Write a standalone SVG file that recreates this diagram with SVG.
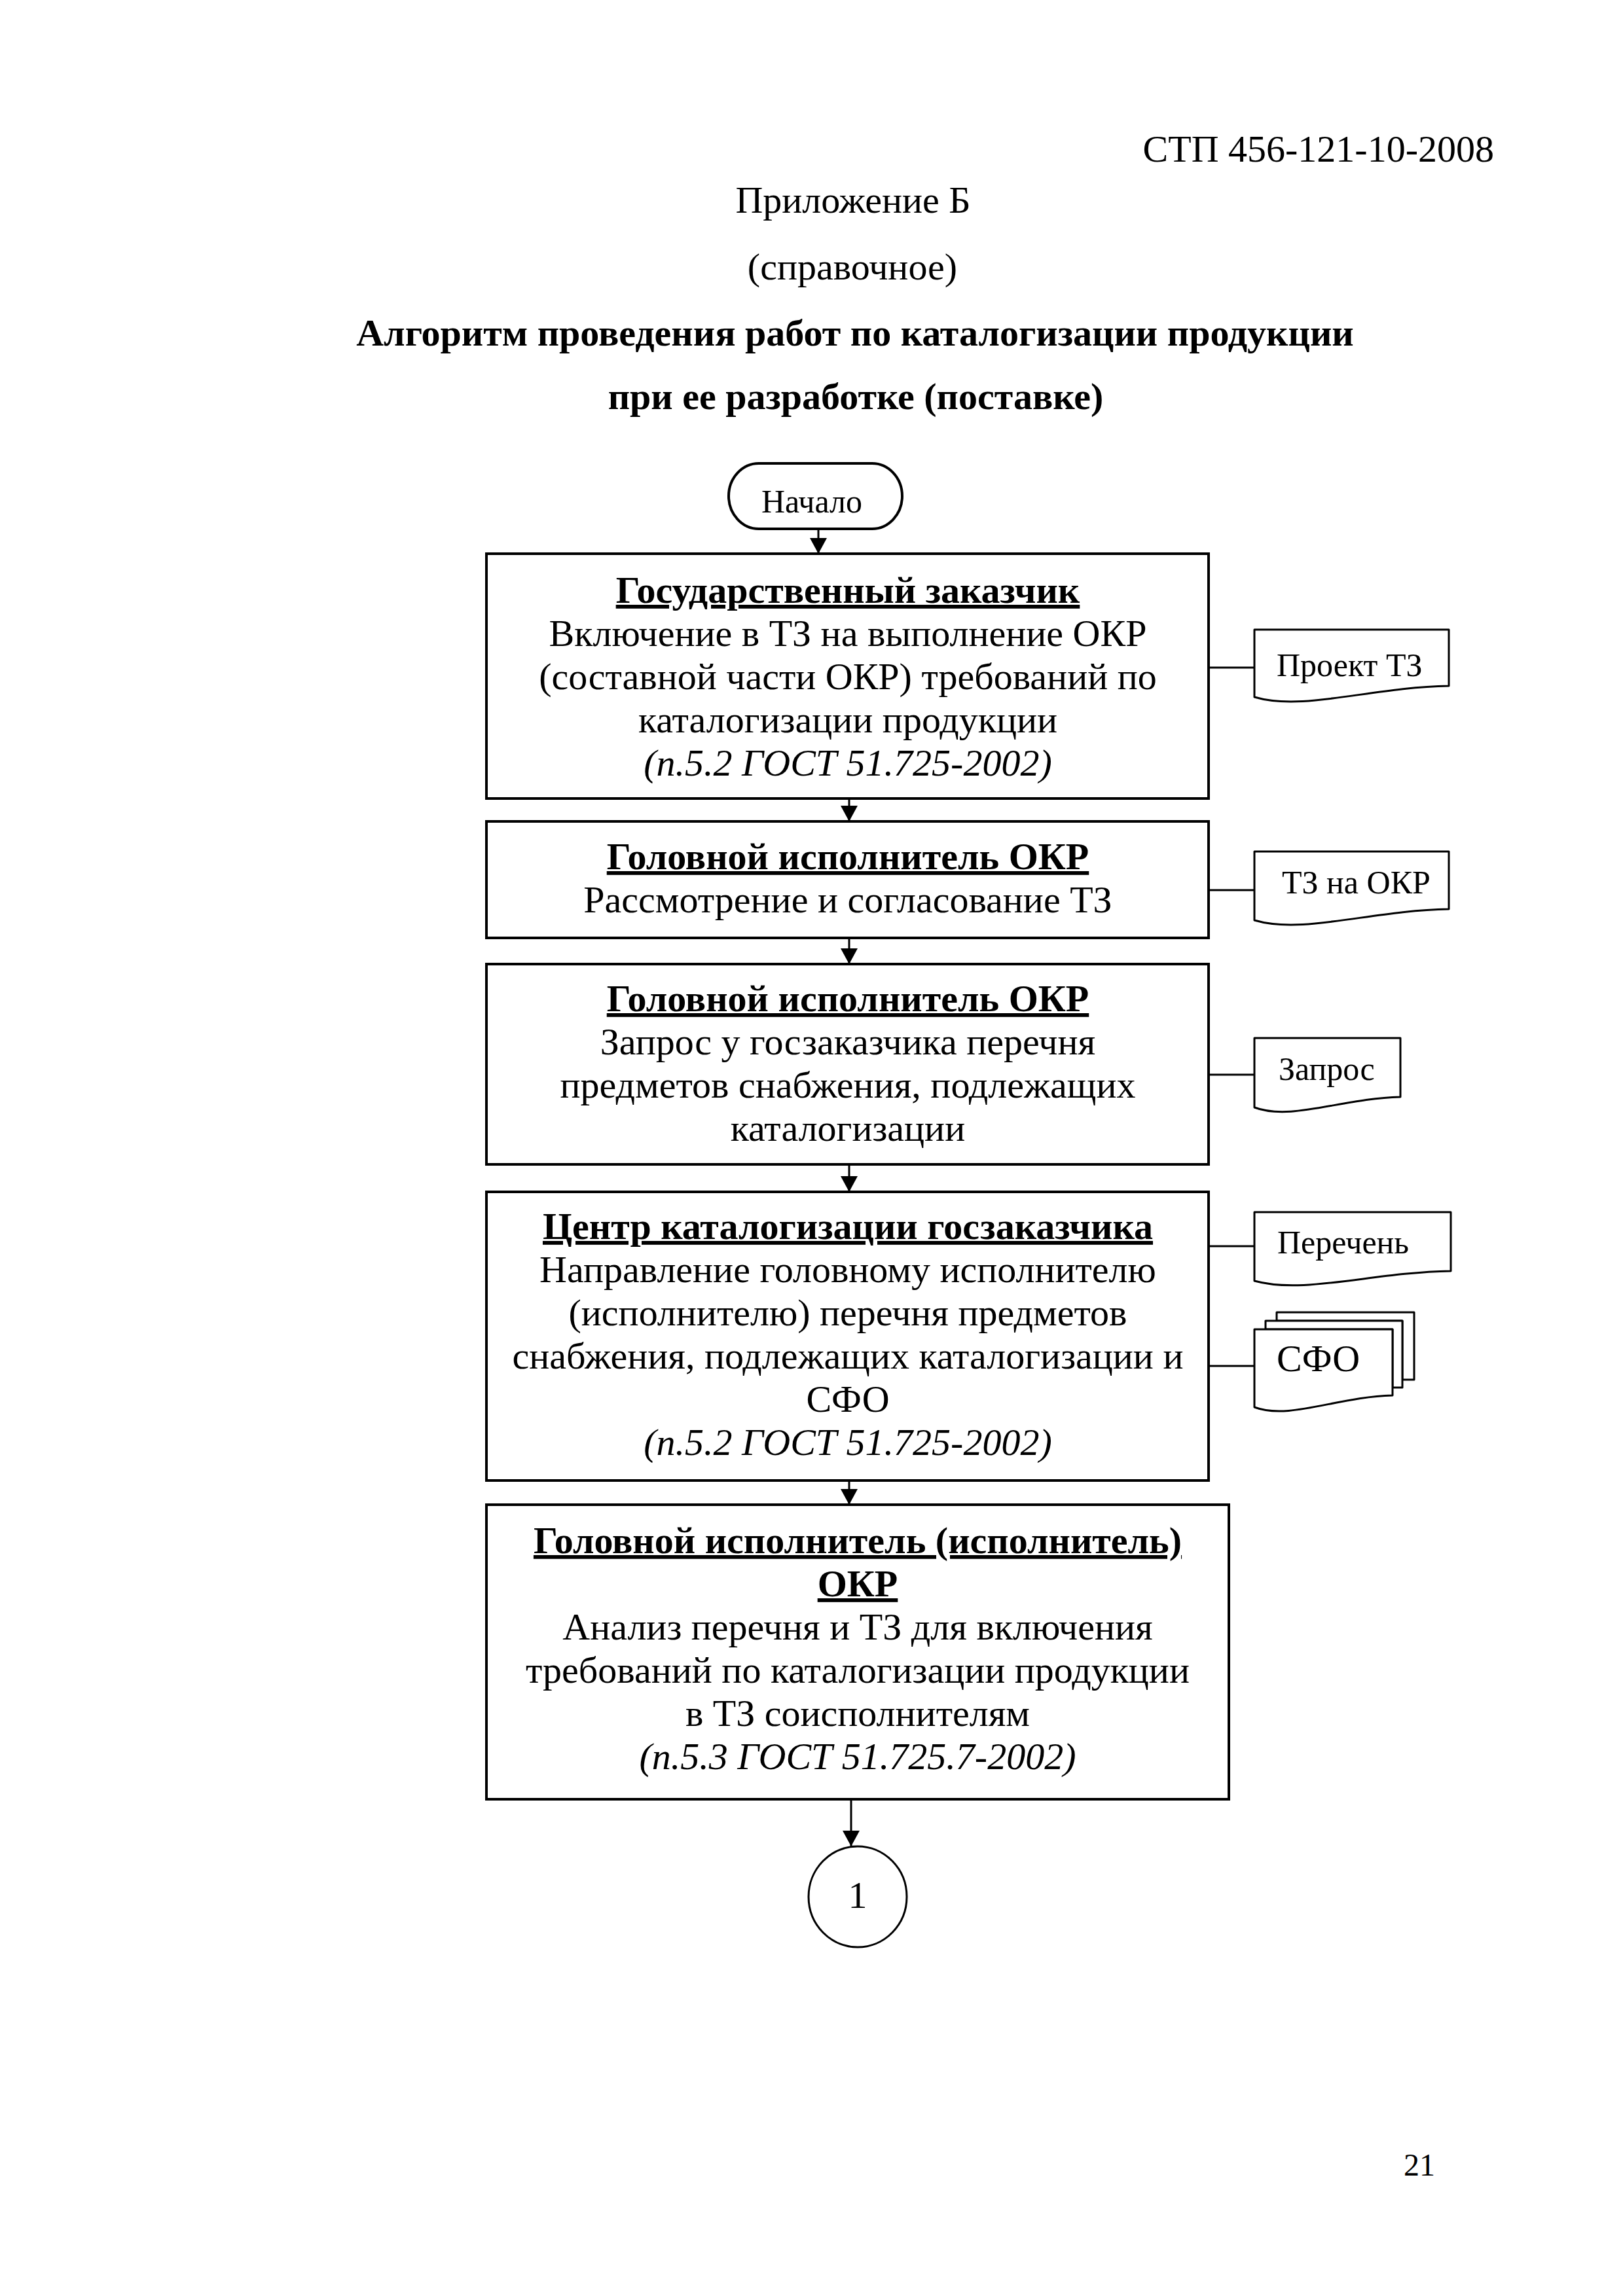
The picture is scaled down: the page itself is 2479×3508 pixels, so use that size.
<svg xmlns="http://www.w3.org/2000/svg" width="2479" height="3508" viewBox="0 0 2479 3508">
<defs>
<style>
text{font-family:"Liberation Serif","Times New Roman",serif;fill:#000}
.hdr{font-size:58px}
.ttl{font-size:58px;font-weight:bold}
.t{font-size:58px;text-anchor:middle}
.b{font-weight:bold;text-decoration:underline;text-decoration-thickness:5px;text-underline-offset:9px}
.i{font-style:italic}
.d{font-size:50px}
.box{fill:#fff;stroke:#000;stroke-width:4}
.doc{fill:#fff;stroke:#000;stroke-width:3;stroke-linejoin:round}
.ln{fill:none;stroke:#000;stroke-width:3}
</style>
<marker id="ah" viewBox="0 0 24 26" refX="24" refY="13" markerWidth="24" markerHeight="26" markerUnits="userSpaceOnUse" orient="auto">
<path d="M0,0 L24,13 L0,26 Z" fill="#000"/>
</marker>
</defs>
<rect x="0" y="0" width="2479" height="3508" fill="#fff"/>

<g id="header">
<text class="hdr" x="2282" y="247" text-anchor="end">СТП 456-121-10-2008</text>
<text class="hdr" x="1303" y="325" text-anchor="middle">Приложение Б</text>
<text class="hdr" x="1302" y="427" text-anchor="middle">(справочное)</text>
<text class="ttl" x="1306" y="528" text-anchor="middle">Алгоритм проведения работ по каталогизации продукции</text>
<text class="ttl" x="1307" y="625" text-anchor="middle">при ее разработке (поставке)</text>
</g>

<g id="connectors">
<line class="ln" x1="1250" y1="808" x2="1250" y2="846" marker-end="url(#ah)"/>
<line class="ln" x1="1297" y1="1220" x2="1297" y2="1255" marker-end="url(#ah)"/>
<line class="ln" x1="1297" y1="1433" x2="1297" y2="1473" marker-end="url(#ah)"/>
<line class="ln" x1="1297" y1="1779" x2="1297" y2="1821" marker-end="url(#ah)"/>
<line class="ln" x1="1297" y1="2262" x2="1297" y2="2299" marker-end="url(#ah)"/>
<line class="ln" x1="1300" y1="2749" x2="1300" y2="2821" marker-end="url(#ah)"/>
<line class="ln" x1="1846" y1="1020" x2="1916" y2="1020"/>
<line class="ln" x1="1846" y1="1360" x2="1916" y2="1360"/>
<line class="ln" x1="1846" y1="1642" x2="1916" y2="1642"/>
<line class="ln" x1="1846" y1="1904" x2="1916" y2="1904"/>
<line class="ln" x1="1846" y1="2087" x2="1916" y2="2087"/>
</g>

<g id="start">
<rect class="box" x="1113" y="708" width="265" height="100" rx="46" ry="50" stroke-width="3"/>
<text class="d" x="1240" y="783" text-anchor="middle">Начало</text>
</g>

<g id="box1">
<rect class="box" x="743" y="846" width="1103" height="374"/>
<text class="t" x="1295" y="921"><tspan class="b">Государственный заказчик</tspan></text>
<text class="t" x="1295" y="987">Включение в ТЗ на выполнение ОКР</text>
<text class="t" x="1295" y="1053">(составной части ОКР) требований по</text>
<text class="t" x="1295" y="1119">каталогизации продукции</text>
<text class="t i" x="1295" y="1185">(п.5.2 ГОСТ 51.725-2002)</text>
</g>

<g id="box2">
<rect class="box" x="743" y="1255" width="1103" height="178"/>
<text class="t" x="1295" y="1328"><tspan class="b">Головной исполнитель ОКР</tspan></text>
<text class="t" x="1295" y="1394">Рассмотрение и согласование ТЗ</text>
</g>

<g id="box3">
<rect class="box" x="743" y="1473" width="1103" height="306"/>
<text class="t" x="1295" y="1545"><tspan class="b">Головной исполнитель ОКР</tspan></text>
<text class="t" x="1295" y="1611">Запрос у госзаказчика перечня</text>
<text class="t" x="1295" y="1677">предметов снабжения, подлежащих</text>
<text class="t" x="1295" y="1743">каталогизации</text>
</g>

<g id="box4">
<rect class="box" x="743" y="1821" width="1103" height="441"/>
<text class="t" x="1295" y="1893"><tspan class="b">Центр каталогизации госзаказчика</tspan></text>
<text class="t" x="1295" y="1959">Направление головному исполнителю</text>
<text class="t" x="1295" y="2025">(исполнителю) перечня предметов</text>
<text class="t" x="1295" y="2091">снабжения, подлежащих каталогизации и</text>
<text class="t" x="1295" y="2157">СФО</text>
<text class="t i" x="1295" y="2223">(п.5.2 ГОСТ 51.725-2002)</text>
</g>

<g id="box5">
<rect class="box" x="743" y="2299" width="1134" height="450"/>
<text class="t" x="1310" y="2373"><tspan class="b">Головной исполнитель (исполнитель)</tspan></text>
<text class="t" x="1310" y="2439"><tspan class="b">ОКР</tspan></text>
<text class="t" x="1310" y="2505">Анализ перечня и ТЗ для включения</text>
<text class="t" x="1310" y="2571">требований по каталогизации продукции</text>
<text class="t" x="1310" y="2637">в ТЗ соисполнителям</text>
<text class="t i" x="1310" y="2703">(п.5.3 ГОСТ 51.725.7-2002)</text>
</g>

<g id="doc-proekt">
<path class="doc" d="M1916,962 H2213 V1048 C2094,1050 1990,1087 1916,1065 Z"/>
<text class="d" x="1950" y="1033">Проект ТЗ</text>
</g>

<g id="doc-tz">
<path class="doc" d="M1916,1301 H2213 V1389 C2094,1391 1990,1428 1916,1406 Z"/>
<text class="d" x="1958" y="1365">ТЗ на ОКР</text>
</g>

<g id="doc-zapros">
<path class="doc" d="M1916,1586 H2139 V1676 C2050,1678 1972,1713 1916,1692 Z"/>
<text class="d" x="1953" y="1650">Запрос</text>
</g>

<g id="doc-perechen">
<path class="doc" d="M1916,1852 H2216 V1942 C2096,1944 1991,1978 1916,1957 Z"/>
<text class="d" x="1951" y="1915">Перечень</text>
</g>

<g id="doc-sfo">
<path class="doc" d="M1950,2005 H2160 V2108 H2142 V2018 H1950 Z"/>
<path class="doc" d="M1933,2018 H2142 V2120 H2127 V2031 H1933 Z"/>
<path class="doc" d="M1916,2031 H2127 V2132 C2043,2134 1969,2170 1916,2150 Z"/>
<text x="1950" y="2095" style="font-size:58px">СФО</text>
</g>

<g id="connector-1">
<ellipse cx="1310" cy="2898" rx="75" ry="77" fill="#fff" stroke="#000" stroke-width="3"/>
<text class="t" x="1310" y="2915">1</text>
</g>

<g id="page">
<text x="2192" y="3324" text-anchor="end" style="font-size:48px">21</text>
</g>
</svg>
